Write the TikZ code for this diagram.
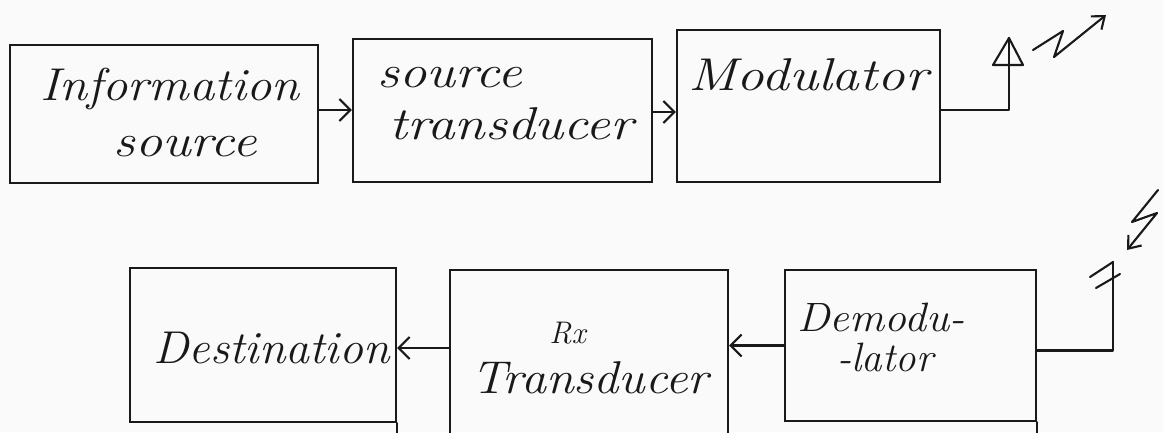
\documentclass[tikz,border=0pt]{standalone}
\usepackage{fontspec}
\usetikzlibrary{arrows.meta}
\definecolor{ink}{RGB}{25,25,25}
\definecolor{paper}{RGB}{250,250,250}
\newcommand\stretchtxt[2]{\scalebox{#1}[1]{#2}}
\begin{document}
\begin{tikzpicture}[x=1pt,y=-1pt,
  box/.style={draw=ink, line width=2.1pt, rectangle, inner sep=0pt},
  lbl/.style={font=\fontsize{46}{56}\selectfont\itshape, text=ink, inner sep=0pt},
  wire/.style={draw=ink, line width=2.1pt, line cap=round, line join=round},
  flow/.style={wire, -{Straight Barb[length=11pt,width=22pt]}},
  zap/.style={wire, -{Straight Barb[length=11pt,width=17pt]}}]
\fill[paper] (0,0) rectangle (1163,432);
\useasboundingbox (0,0) rectangle (1163,432);
% boxes
\node[box, minimum width=308pt, minimum height=138pt] (b1) at (164,114) {};
\node[box, minimum width=299pt, minimum height=143pt] (b2) at (502.5,110.5) {};
\node[box, minimum width=263pt, minimum height=152pt] (b3) at (808.5,106) {};
\node[box, minimum width=266pt, minimum height=154pt] (b4) at (263,345) {};
\node[box, minimum width=278pt, minimum height=178pt] (b5) at (589,359) {};
\node[box, minimum width=251pt, minimum height=151pt] (b6) at (910.5,345.5) {};
% labels
\node[lbl, align=center] (t1) at (170,113) {\stretchtxt{1.1}{Information}\\\hspace*{30pt}\stretchtxt{1.18}{source}};
\node[lbl, align=left, anchor=west] (t2) at (377,104) {\stretchtxt{1.19}{source}\\[-4pt]\hspace*{12pt}\stretchtxt{1.2}{transducer}};
\node[lbl, anchor=base west] (t3) at (688,90) {\stretchtxt{1.2}{Modulator}};
\node[lbl, anchor=base west] (t4) at (153,363) {\stretchtxt{1.04}{Destination}};
\node[lbl, align=center] (t5) at (590,358) {\hspace*{-45pt}\scalebox{0.68}{Rx}\\[-6pt]\stretchtxt{1.09}{Transducer}};
\node[lbl, align=left, anchor=west, font=\fontsize{41}{40}\selectfont\itshape] (t6) at (797,337) {\stretchtxt{1.07}{Demodu-}\\\hspace*{40pt}-lator};
% connectors
\draw[flow] ([yshift=4pt]b1.east) -- ([yshift=4pt]b1.east -| b2.west);
\draw[flow] ([yshift=-1.5pt]b2.east) -- ([yshift=-1.5pt]b2.east -| b3.west);
\draw[flow] (b6.west) -- (b6.west -| b5.east);
\draw[flow] ([yshift=11pt]b5.west) -- ([yshift=11pt]b5.west -| b4.east);
\draw[wire] (b4.south east) -- ++(0,12);
\draw[wire] (b6.south east) -- ++(0,12);
% transmitting antenna
\coordinate (ant1) at (1009,38);
\draw[wire] ([yshift=-4pt]b3.east) -- ([yshift=-4pt]b3.east -| ant1) -- (ant1);
\draw[wire] (ant1) -- (993,65) -- (1023,65) -- cycle;
\coordinate (z1) at (1033,50);
\coordinate (z1e) at (1106,15);
\draw[zap] (z1) -- (1063,31) -- (1054,57) -- (z1e);
% receiving antenna
\coordinate (ant2) at (1113,262);
\draw[wire] ([yshift=-5pt]b6.east) -- ([yshift=-5pt]b6.east -| ant2) -- (ant2);
\draw[wire] (1090,277) -- (ant2);
\draw[wire] (1096,288) -- (1120,274);
\coordinate (z2) at (1158,190);
\coordinate (z2e) at (1127,250);
\draw[zap] (z2) -- (1132,222) -- (1157,213) -- (z2e);
\end{tikzpicture}
\end{document}
